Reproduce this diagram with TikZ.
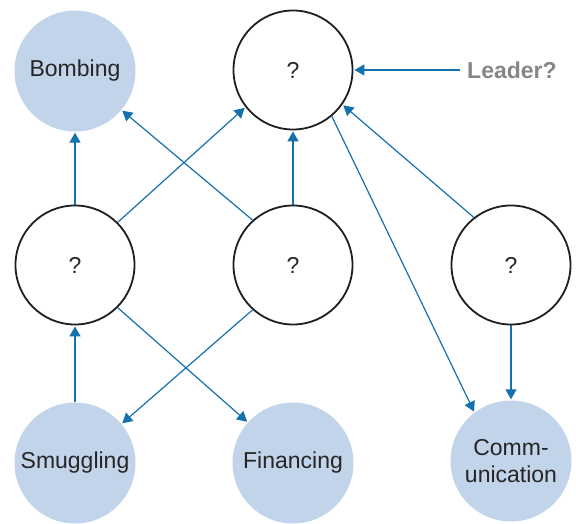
\documentclass[tikz,border=0pt]{standalone}
\usepackage{fontspec}
\setmainfont{Liberation Sans}
\usetikzlibrary{arrows.meta}
\definecolor{fillblue}{HTML}{C2D4E9}
\definecolor{arrowblue}{HTML}{1570AE}
\definecolor{leadgray}{HTML}{85868A}
\tikzset{
  known/.style={circle, fill=fillblue, minimum size=121pt, inner sep=0pt, font=\fontsize{23}{27}\selectfont, text=black!85, align=center},
  unknown/.style={circle, draw=black!88, line width=1.8pt, fill=white, minimum size=119pt, inner sep=0pt, font=\fontsize{23}{27}\selectfont, text=black!85},
  link/.style={draw=arrowblue, line width=1.2pt, -{Triangle[length=10pt,width=11pt]}, shorten >=1pt}
}
\begin{document}
\begin{tikzpicture}[x=1pt,y=1pt]
\useasboundingbox (0,0) rectangle (576,523);
\node[known] (bomb) at (75,452) {Bombing};
\node[unknown] (top) at (293,453) {?};
\node[unknown] (ml) at (75,258) {?};
\node[unknown] (mc) at (293,258) {?};
\node[unknown] (mr) at (511,258) {?};
\node[known] (smug) at (75,60) {Smuggling};
\node[known] (fin) at (293,60) {Financing};
\node[known] (comm) at (511,62) {Comm-\\unication};
\node[anchor=west, inner sep=0pt, text=leadgray, font=\fontsize{23}{27}\selectfont\bfseries] (lead) at (467,453) {Leader?};
\draw[link] (ml.90) -- (bomb.270);
\draw[link] (ml.45) -- (top.218);
\draw[link] (mc.132) -- (bomb.320);
\draw[link] (mc.90) -- (top.270);
\draw[link] (mr.128) -- (top.325);
\draw[link] (top.310) -- (comm.127);
\draw[link] (mr.270) -- (comm.90);
\draw[link] (smug.90) -- (ml.270);
\draw[link] (ml.315) -- (fin.138);
\draw[link] (mc.228) -- (smug.40);
\draw[link, shorten <=7pt] (lead.west) -- (top.0);
\end{tikzpicture}
\end{document}
